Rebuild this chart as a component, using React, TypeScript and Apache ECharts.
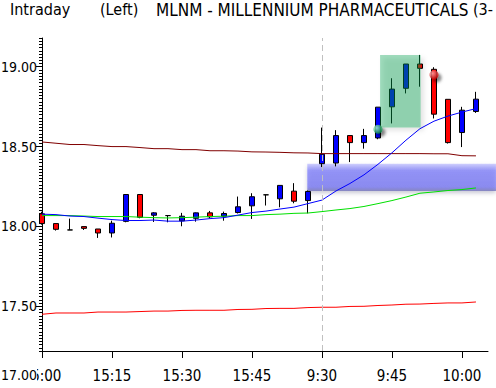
import React, { useEffect, useRef } from 'react';
import * as echarts from 'echarts';

const TIMES = [
  '15:00', '15:03', '15:06', '15:09', '15:12', '15:15', '15:18', '15:21', '15:24', '15:27',
  '15:30', '15:33', '15:36', '15:39', '15:42', '15:45', '15:48', '15:51', '15:54', '15:57',
  '9:30', '9:33', '9:36', '9:39', '9:42', '9:45', '9:48', '9:51', '9:54', '9:57', '10:00', '10:03',
];
const OPEN = [
  18.079, 18.018, 17.978, 17.999, 17.984, 17.959, 18.032, 18.2, 18.07, 18.068,
  18.035, 18.051, 18.085, 18.064, 18.087, 18.129, 18.198, 18.173, 18.221, 18.162,
  18.393, 18.397, 18.569, 18.525, 18.554, 18.749, 18.865, 19.017, 18.984, 18.796, 18.588, 18.72,
];
const CLOSE = [
  18.018, 17.982, 17.978, 17.988, 17.959, 18.02, 18.2, 18.057, 18.085, 18.068,
  18.064, 18.085, 18.06, 18.081, 18.123, 18.186, 18.198, 18.257, 18.158, 18.219,
  18.452, 18.569, 18.525, 18.569, 18.747, 18.86, 19.017, 18.99, 18.703, 18.525, 18.728, 18.797,
];
const LOW = [
  18.011, 17.974, 17.978, 17.978, 17.928, 17.931, 18.026, 18.051, 18.028, 18.026,
  18.001, 18.03, 18.051, 18.036, 18.081, 18.047, 18.131, 18.12, 18.145, 18.082,
  18.372, 18.376, 18.403, 18.487, 18.546, 18.645, 18.833, 18.875, 18.676, 18.519, 18.497, 18.711,
];
const HIGH = [
  18.092, 18.018, 18.049, 17.999, 17.984, 18.036, 18.203, 18.203, 18.089, 18.068,
  18.085, 18.087, 18.097, 18.093, 18.187, 18.208, 18.198, 18.257, 18.271, 18.225,
  18.619, 18.603, 18.569, 18.611, 18.747, 18.928, 19.017, 19.074, 18.997, 18.796, 18.749, 18.843,
];
const MA_FAST = [
  18.077, 18.074, 18.065, 18.062, 18.052, 18.043, 18.037, 18.037, 18.04, 18.033,
  18.033, 18.04, 18.049, 18.055, 18.071, 18.087, 18.096, 18.109, 18.121, 18.143,
  18.165, 18.222, 18.269, 18.323, 18.389, 18.461, 18.54, 18.612, 18.659, 18.691, 18.716, 18.738,
];
const MA_SLOW = [
  18.068, 18.068, 18.068, 18.065, 18.062, 18.062, 18.062, 18.058, 18.055, 18.053,
  18.055, 18.058, 18.062, 18.064, 18.068, 18.068, 18.074, 18.077, 18.082, 18.084,
  18.093, 18.103, 18.112, 18.125, 18.143, 18.162, 18.184, 18.208, 18.216, 18.225, 18.231, 18.241,
];
const CHANNEL_UPPER = [
  18.529, 18.521, 18.513, 18.513, 18.506, 18.5, 18.5, 18.494, 18.487, 18.487,
  18.481, 18.481, 18.474, 18.474, 18.472, 18.467, 18.466, 18.464, 18.461, 18.46,
  18.456, 18.456, 18.456, 18.456, 18.456, 18.456, 18.456, 18.456, 18.455, 18.455, 18.443, 18.442,
];
const CHANNEL_LOWER = [
  17.45, 17.458, 17.458, 17.458, 17.464, 17.464, 17.464, 17.467, 17.47, 17.47,
  17.474, 17.475, 17.475, 17.475, 17.48, 17.481, 17.486, 17.487, 17.487, 17.492,
  17.494, 17.494, 17.499, 17.5, 17.505, 17.508, 17.513, 17.514, 17.518, 17.521, 17.521, 17.527,
];
const X_TICKS = [0, 5, 10, 15, 20, 25, 30];
const Y_TICKS = [17.5, 18.0, 18.5, 19.0];
const SESSION_BREAK = 20;
const BUY_SIGNAL = [24, 18.609];
const SELL_SIGNAL = [28, 18.95];
// [x start, x end, y top, y bottom]
const BLUE_ZONE = [18.95, 32.43, 18.392, 18.222];
const GREEN_ZONE = [24.15, 27.05, 19.074, 18.62];

const FONT = "'DejaVu Sans Condensed', 'Liberation Sans Narrow', sans-serif";

export default function App() {
  const ref = useRef<HTMLDivElement>(null);
  useEffect(() => {
    if (!ref.current) return;
    const chart = echarts.init(ref.current, undefined, { renderer: 'svg' });
    const candles = TIMES.map((_, i) => [i, OPEN[i], CLOSE[i], LOW[i], HIGH[i]]);
    const toXY = (arr: number[]) => arr.map((v, i) => [i, v]);
    const zoneItem = (fillMaker: () => any, shadow: any) => (params: any, api: any) => {
      const p0 = api.coord([api.value(0), api.value(2)]);
      const p1 = api.coord([api.value(1), api.value(3)]);
      return {
        type: 'rect',
        shape: { x: p0[0], y: p0[1], width: p1[0] - p0[0], height: p1[1] - p0[1] },
        style: { fill: fillMaker(), ...shadow },
      };
    };
    const ball = (light: string, dark: string) => ({
      color: new echarts.graphic.RadialGradient(0.35, 0.35, 0.7, [
        { offset: 0, color: light },
        { offset: 1, color: dark },
      ]),
      shadowBlur: 3,
      shadowColor: 'rgba(0,0,0,0.6)',
      shadowOffsetX: 3,
      shadowOffsetY: 3,
    });
    chart.setOption({
      animation: false,
      backgroundColor: '#ffffff',
      textStyle: { fontFamily: FONT },
      grid: { left: 42, right: 8, top: 38, bottom: 37, outerBoundsMode: 'none', containLabel: false },
      xAxis: {
        type: 'value',
        min: 0,
        max: 31.86,
        interval: 1,
        axisLine: { show: true, lineStyle: { color: '#000', width: 1 } },
        axisTick: { show: true, customValues: X_TICKS, length: 7, lineStyle: { color: '#000' } },
        axisLabel: {
          customValues: X_TICKS,
          formatter: (v: number) => TIMES[Math.round(v)] ?? '',
          margin: 17,
          fontSize: 15,
          color: '#000',
          fontFamily: FONT,
        },
        splitLine: { show: false },
      },
      yAxis: [
        {
          type: 'value',
          min: 17.22,
          max: 19.18,
          interval: 0.02,
          axisLine: { show: true, lineStyle: { color: '#000', width: 1 } },
          axisTick: { show: true, length: 3, lineStyle: { color: '#000' } },
          axisLabel: { show: false },
          splitLine: { show: false },
        },
        {
          type: 'value',
          min: 17.22,
          max: 19.18,
          interval: 0.02,
          position: 'left',
          axisLine: { show: false },
          axisTick: { show: true, customValues: Y_TICKS, length: 6, lineStyle: { color: '#000' } },
          axisLabel: {
            customValues: Y_TICKS,
            formatter: (v: number) => v.toFixed(2),
            margin: 5,
            fontSize: 14,
            color: '#000',
            fontFamily: FONT,
          },
          splitLine: { show: false },
        },
      ],
      graphic: [
        { type: 'text', left: 10, top: 1, z: 100, style: { text: 'Intraday', fontSize: 16, fill: '#000', fontFamily: FONT } },
        { type: 'text', left: 100, top: 1, z: 100, style: { text: '(Left)', fontSize: 16, fill: '#000', fontFamily: FONT } },
        { type: 'text', left: 156, top: 1, z: 100, style: { text: 'MLNM - MILLENNIUM PHARMACEUTICALS', fontSize: 17, fill: '#000', fontFamily: FONT } },
        { type: 'text', left: 473, top: 1, z: 100, style: { text: '(3-', fontSize: 16, fill: '#000', fontFamily: FONT } },
        { type: 'text', left: 1, top: 368, z: 100, style: { text: '17.00', fontSize: 14, fill: '#000', backgroundColor: '#fff', fontFamily: FONT } },
      ],
      series: [
        {
          type: 'custom',
          z: 1,
          silent: true,
          clip: false,
          encode: { x: [0, 1], y: [2, 3] },
          data: [BLUE_ZONE],
          renderItem: zoneItem(
            () =>
              new echarts.graphic.LinearGradient(0, 0, 0, 1, [
                { offset: 0, color: 'rgba(120,120,255,0.35)' },
                { offset: 0.25, color: 'rgba(90,90,255,0.55)' },
                { offset: 0.85, color: 'rgba(90,90,245,0.6)' },
                { offset: 1, color: 'rgba(90,90,170,0.65)' },
              ]),
            { shadowBlur: 4, shadowColor: 'rgba(0,0,60,0.35)', shadowOffsetY: 2 }
          ),
        },
        {
          type: 'candlestick',
          z: 2,
          encode: { x: 0, y: [1, 2, 3, 4] },
          data: candles,
          barWidth: 5,
          itemStyle: {
            color: '#0000ff',
            color0: '#ff0000',
            borderColor: '#000000',
            borderColor0: '#000000',
            borderColorDoji: '#000000',
            borderWidth: 1,
          },
          markLine: {
            silent: true,
            symbol: ['none', 'none'],
            label: { show: false },
            lineStyle: { color: '#c0c0c0', type: [6, 4], width: 1 },
            data: [{ xAxis: SESSION_BREAK }],
          },
        },
        {
          type: 'line', z: 3, silent: true, showSymbol: false, data: toXY(CHANNEL_UPPER),
          lineStyle: { color: '#800000', width: 1 },
        },
        {
          type: 'line', z: 3, silent: true, showSymbol: false, data: toXY(CHANNEL_LOWER),
          lineStyle: { color: '#ff0000', width: 1 },
        },
        {
          type: 'line', z: 3, silent: true, showSymbol: false, data: toXY(MA_SLOW),
          lineStyle: { color: '#00e000', width: 1 },
        },
        {
          type: 'line', z: 3, silent: true, showSymbol: false, data: toXY(MA_FAST),
          lineStyle: { color: '#0000ff', width: 1 },
        },
        {
          type: 'custom',
          z: 4,
          silent: true,
          clip: false,
          encode: { x: [0, 1], y: [2, 3] },
          data: [GREEN_ZONE],
          renderItem: zoneItem(
            () => 'rgba(0,160,80,0.37)',
            { shadowBlur: 5, shadowColor: 'rgba(0,0,0,0.3)', shadowOffsetX: 3, shadowOffsetY: 3 }
          ),
        },
        {
          type: 'scatter',
          z: 5,
          silent: true,
          symbol: 'circle',
          symbolSize: 9,
          data: [
            { value: BUY_SIGNAL, itemStyle: ball('#b0ffd0', '#008040') },
            { value: SELL_SIGNAL, itemStyle: ball('#ffb0b0', '#c00000') },
          ],
        },
      ],
    });
    return () => chart.dispose();
  }, []);
  return (
    <div
      ref={ref}
      style={{ position: 'absolute', left: 0, top: 0, width: 496, height: 388, background: '#fff' }}
    />
  );
}
